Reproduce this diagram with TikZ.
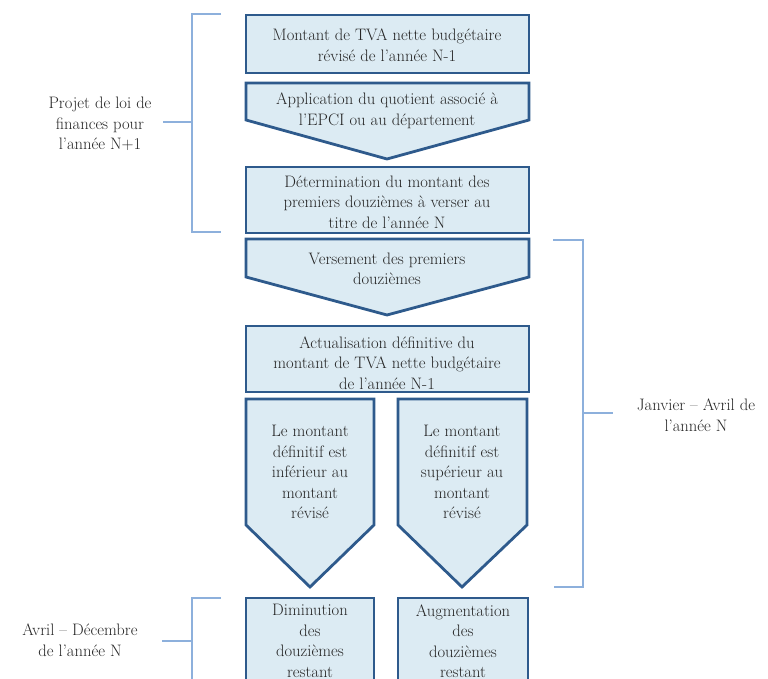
\documentclass[tikz,border=0pt]{standalone}
\usepackage{fontspec}
\definecolor{boxfill}{HTML}{DCEBF3}
\definecolor{boxdraw}{HTML}{2E5A8C}
\definecolor{brack}{HTML}{8DB0DC}
\definecolor{txtc}{HTML}{262626}
\begin{document}
\begin{tikzpicture}[x=1pt,y=-1pt,
  shp/.style={draw=boxdraw, fill=boxfill, line width=2.8pt, line join=miter},
  txt/.style={align=center, font=\fontsize{16.6}{20.5}\selectfont, text=txtc, inner sep=0pt},
  brk/.style={draw=brack, line width=1.6pt}]
\useasboundingbox (0,0) rectangle (768,679);
\clip (0,0) rectangle (768,679);
% shapes
\path[shp] (246,15) rectangle (529,73);
\path[shp] (246,83) -- (529,83) -- (529,120) -- (387,159) -- (246,120) -- cycle;
\path[shp] (246,167) rectangle (529,233);
\path[shp] (246,239) -- (529,239) -- (529,277) -- (387,315) -- (246,277) -- cycle;
\path[shp] (246,326) rectangle (529,392);
\path[shp] (246,399) -- (374,399) -- (374,525) -- (310,587) -- (246,525) -- cycle;
\path[shp] (398,399) -- (527,399) -- (527,525) -- (462,587) -- (398,525) -- cycle;
\path[shp] (246,598) rectangle (374,700);
\path[shp] (398,598) rectangle (528,700);
% texts
\node[txt] (t1) at (387,45) {Montant de TVA nette budgétaire\\révisé de l’année N-1};
\node[txt] (t2) at (387,111) {Application du quotient associé à\\l’EPCI ou au département};
\node[txt] (t3) at (387,202) {Détermination du montant des\\premiers douzièmes à verser au\\titre de l’année N};
\node[txt] (t4) at (387,269) {Versement des premiers\\douzièmes};
\node[txt] (t5) at (387,363) {Actualisation définitive du\\montant de TVA nette budgétaire\\de l’année N-1};
\node[txt] (t6) at (310,472) {Le montant\\définitif est\\inférieur au\\montant\\révisé};
\node[txt] (t7) at (462,472) {Le montant\\définitif est\\supérieur au\\montant\\révisé};
\node[txt] (t8) at (310,641) {Diminution\\des\\douzièmes\\restant};
\node[txt] (t9) at (463,641) {Augmentation\\des\\douzièmes\\restant};
% labels
\node[txt] (l1) at (100,124) {Projet de loi de\\finances pour\\l’année N+1};
\node[txt] (l2) at (696,415) {Janvier – Avril de\\l’année N};
\node[txt] (l3) at (80,640) {Avril – Décembre\\de l’année N};
% brackets
\coordinate (b1) at (192,122);
\coordinate (b2) at (583,413);
\coordinate (b3) at (192,641);
\draw[brk] (221,14) -- (192,14) -- (192,232) -- (221,232);
\draw[brk] (b1) -- (163,122);
\draw[brk] (553,240) -- (583,240) -- (583,587) -- (554,587);
\draw[brk] (b2) -- (613,413);
\draw[brk] (221,598) -- (192,598) -- (192,700);
\draw[brk] (b3) -- (162,641);
\end{tikzpicture}
\end{document}
